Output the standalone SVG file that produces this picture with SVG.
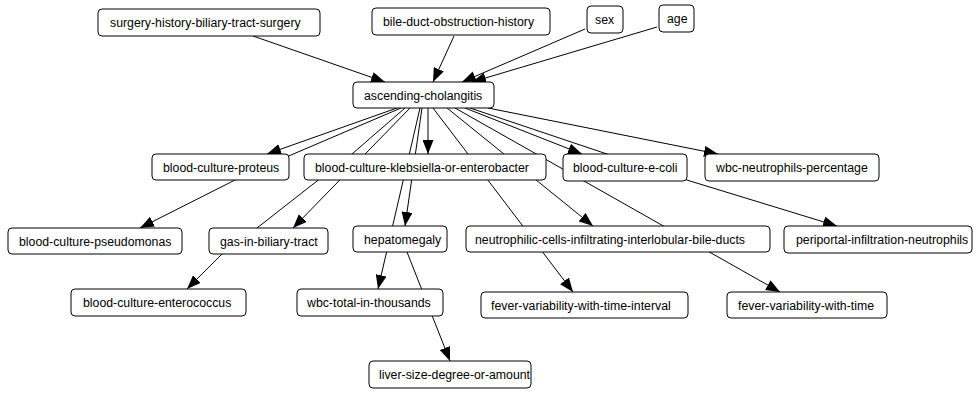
<svg xmlns="http://www.w3.org/2000/svg" width="980" height="394" viewBox="0 0 980 394">
<defs>
<marker id="ah" viewBox="0 0 14 11" refX="14" refY="5.5" markerWidth="14" markerHeight="11" markerUnits="userSpaceOnUse" orient="auto"><path d="M0,0L14,5.5L0,11z" fill="#000"/></marker>
<style>
.e{fill:none;stroke:#000;stroke-width:1}
.a{marker-end:url(#ah)}
rect{fill:#fff;stroke:#000;stroke-width:1}
text{font-family:"Liberation Sans",Arial,sans-serif;font-size:12.3px;fill:#000}
</style>
</defs>
<rect x="0" y="0" width="980" height="394" style="stroke:none;fill:#fff"/>
<g id="connectors">
<path class="e a" d="M253,36L385,82"/>
<path class="e a" d="M454,36L433,82"/>
<path class="e a" d="M585,29L462,82"/>
<path class="e a" d="M657,27L472,82"/>
<path class="e a" d="M397,108L267,154"/>
<path class="e a" d="M401,108L291,155L235,180L140,228"/>
<path class="e a" d="M410,108L293,228"/>
<path class="e a" d="M405,108L352,154L317,181L257,228L222,254L187,289"/>
<path class="e a" d="M422,108L405,226"/>
<path class="e a" d="M420,108L378,289"/>
<path class="e a" d="M428,108L428,154"/>
<path class="e a" d="M407,252L450,361"/>
<path class="e a" d="M433,108L573,292"/>
<path class="e a" d="M447,108L593,226"/>
<path class="e a" d="M455,108L780,292"/>
<path class="e a" d="M465,108L582,154"/>
<path class="e a" d="M470,108L607,154L690,181L837,226"/>
<path class="e a" d="M488,108L718,154"/>
</g>
<g id="n-surgery"><rect x="98" y="9" width="222" height="27" rx="4"/><text x="110" y="27">surgery-history-biliary-tract-surgery</text></g>
<g id="n-bile"><rect x="372" y="8" width="178" height="27" rx="4"/><text x="383" y="26">bile-duct-obstruction-history</text></g>
<g id="n-sex"><rect x="587" y="6" width="36" height="27" rx="4"/><text x="595" y="24">sex</text></g>
<g id="n-age"><rect x="659" y="5" width="35" height="27" rx="4"/><text x="667" y="23">age</text></g>
<g id="n-asc"><rect x="353" y="82" width="141" height="26" rx="4"/><text x="364" y="99.5">ascending-cholangitis</text></g>
<g id="n-proteus"><rect x="152" y="154" width="137" height="26" rx="4"/><text x="163" y="171.5">blood-culture-proteus</text></g>
<g id="n-klebsiella"><rect x="304" y="154" width="242" height="26" rx="4"/><text x="315" y="171.5">blood-culture-klebsiella-or-enterobacter</text></g>
<g id="n-ecoli"><rect x="563" y="154" width="124" height="27" rx="4"/><text x="573" y="172">blood-culture-e-coli</text></g>
<g id="n-wbcn"><rect x="705" y="154" width="174" height="27" rx="4"/><text x="716" y="172">wbc-neutrophils-percentage</text></g>
<g id="n-pseudomonas"><rect x="8" y="228" width="174" height="26" rx="4"/><text x="19" y="245.5">blood-culture-pseudomonas</text></g>
<g id="n-gas"><rect x="209" y="228" width="119" height="26" rx="4"/><text x="220" y="245.5">gas-in-biliary-tract</text></g>
<g id="n-hepatomegaly"><rect x="353" y="226" width="94" height="26" rx="4"/><text x="364" y="243.5">hepatomegaly</text></g>
<g id="n-neutrophilic"><rect x="466" y="226" width="304" height="26" rx="4"/><text x="475" y="243.5">neutrophilic-cells-infiltrating-interlobular-bile-ducts</text></g>
<g id="n-periportal"><rect x="784" y="226" width="188" height="27" rx="4"/><text x="796" y="244">periportal-infiltration-neutrophils</text></g>
<g id="n-enterococcus"><rect x="71" y="289" width="175" height="27" rx="4"/><text x="83" y="307">blood-culture-enterococcus</text></g>
<g id="n-wbctotal"><rect x="297" y="289" width="146" height="27" rx="4"/><text x="307" y="307">wbc-total-in-thousands</text></g>
<g id="n-liversize"><rect x="369" y="361" width="162" height="27" rx="4"/><text x="379" y="379">liver-size-degree-or-amount</text></g>
<g id="n-feverint"><rect x="481" y="292" width="207" height="26" rx="4"/><text x="491" y="309.5">fever-variability-with-time-interval</text></g>
<g id="n-fevertime"><rect x="727" y="292" width="160" height="26" rx="4"/><text x="738" y="309.5">fever-variability-with-time</text></g>
</svg>
